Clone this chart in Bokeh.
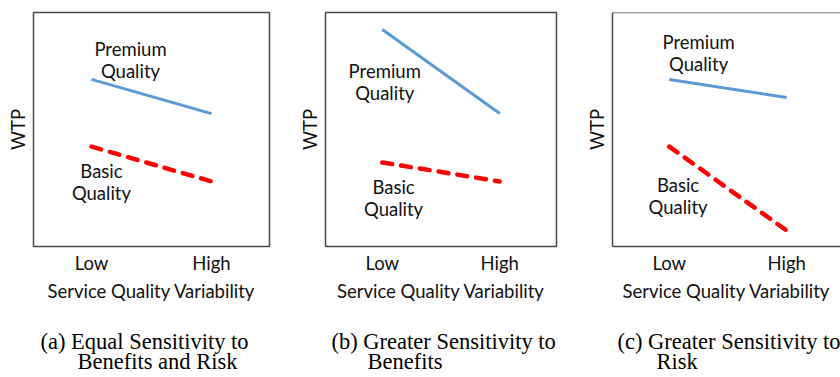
from bokeh.plotting import figure
from bokeh.layouts import row
from bokeh.models import FixedTicker, Title, Span
from bokeh.core.properties import value
from bokeh.embed import file_html
from bokeh.resources import INLINE

# ---- data ----
x_levels = [0, 1]
x_tick_labels = ["Low", "High"]
x_title = "Service Quality Variability"
y_title = "WTP"

premium_a = [7.14, 5.68]
basic_a = [4.27, 2.78]
premium_b = [9.27, 5.68]
basic_b = [3.59, 2.78]
premium_c = [7.14, 6.37]
basic_c = [4.27, 0.68]

premium_label = ["Premium", "Quality"]
basic_label = ["Basic", "Quality"]

captions_a = ["(a) Equal Sensitivity to", "Benefits and Risk"]
captions_b = ["(b) Greater Sensitivity to", "Benefits"]
captions_c = ["(c) Greater Sensitivity to", "Risk"]

# label anchor points (data units): x, y of first line, y of second line
prem_pos_a = (0.325, 8.42, 7.48)
basic_pos_a = (0.083, 3.21, 2.27)
prem_pos_b = (0.021, 7.52, 6.58)
basic_pos_b = (0.096, 2.56, 1.62)
prem_pos_c = (0.25, 8.72, 7.78)
basic_pos_c = (0.075, 2.61, 1.67)

# ---- styles ----
BLUE = "#5B9BD5"
RED = "#FF0000"
FRAME = "#4a4a4a"
TXT = "#111111"
SANS = "Lato"
SERIF = "Liberation Serif"
SANS_SIZE = "18.5px"
SERIF_SIZE = "22.5px"

Y0, Y1 = 0.0, 10.0
X0 = -58 / 120


def make_panel(premium, basic, prem_pos, basic_pos, caps, width, left, frame_w, right_border, cap_offsets):
    x1 = X0 + frame_w / 120
    p = figure(width=width, height=377, x_range=(X0, x1), y_range=(Y0, Y1),
               output_backend="svg", toolbar_location=None,
               min_border_left=left, min_border_right=(width - left - frame_w),
               min_border_top=12, min_border_bottom=131,
               background_fill_color="white", border_fill_color="white")
    p.grid.visible = False
    if right_border:
        p.outline_line_color = FRAME
        p.outline_line_width = 1.5
        line_col = None
    else:
        p.outline_line_color = None
        line_col = FRAME
        p.add_layout(Span(location=Y1, dimension="width", line_color=FRAME, line_width=1.5))

    xa = p.xaxis[0]
    xa.ticker = FixedTicker(ticks=x_levels)
    xa.major_label_overrides = {x_levels[i]: x_tick_labels[i] for i in range(len(x_levels))}
    xa.major_tick_line_color = None
    xa.minor_tick_line_color = None
    xa.major_tick_out = 0
    xa.major_tick_in = 0
    xa.axis_line_color = line_col
    xa.axis_line_width = 1.5
    xa.major_label_standoff = 5
    xa.major_label_text_font = SANS
    xa.major_label_text_font_size = SANS_SIZE
    xa.major_label_text_color = TXT
    xa.axis_label = x_title
    xa.axis_label_standoff = 3
    xa.axis_label_text_font = SANS
    xa.axis_label_text_font_size = SANS_SIZE
    xa.axis_label_text_font_style = "normal"
    xa.axis_label_text_color = TXT

    ya = p.yaxis[0]
    ya.ticker = FixedTicker(ticks=[])
    ya.major_tick_line_color = None
    ya.minor_tick_line_color = None
    ya.major_tick_out = 0
    ya.major_tick_in = 0
    ya.axis_line_color = line_col
    ya.axis_line_width = 1.5
    ya.axis_label = y_title
    ya.axis_label_standoff = 5
    ya.axis_label_text_font = SANS
    ya.axis_label_text_font_size = SANS_SIZE
    ya.axis_label_text_font_style = "normal"
    ya.axis_label_text_color = TXT

    p.line(x_levels, premium, line_color=BLUE, line_width=3)
    p.line(x_levels, basic, line_color=RED, line_width=4.5, line_dash="10 9", line_cap="round")

    p.text(x=[prem_pos[0], prem_pos[0], basic_pos[0], basic_pos[0]],
           y=[prem_pos[1], prem_pos[2], basic_pos[1], basic_pos[2]],
           text=premium_label + basic_label,
           text_align="center", text_baseline="alphabetic",
           text_font=value(SANS), text_font_size=SANS_SIZE, text_color=TXT)

    t1 = Title(text=caps[0], align="left", offset=cap_offsets[0], standoff=44,
               text_font=SERIF, text_font_size=SERIF_SIZE, text_font_style="normal",
               text_color="#000000")
    t2 = Title(text=caps[1], align="left", vertical_align="top", offset=cap_offsets[1], standoff=-54,
               text_font=SERIF, text_font_size=SERIF_SIZE, text_font_style="normal",
               text_color="#000000")
    p.add_layout(t1, "below")
    p.add_layout(t2, "below")
    return p


pa = make_panel(premium_a, basic_a, prem_pos_a, basic_pos_a, captions_a, 295, 33, 236, True, (7, 44))
pb = make_panel(premium_b, basic_b, prem_pos_b, basic_pos_b, captions_b, 287, 25, 236, True, (6, 42))
pc = make_panel(premium_c, basic_c, prem_pos_c, basic_pos_c, captions_c, 258, 25, 233, False, (5, 44))

layout = row(pa, pb, pc)
open("out.html", "w").write(file_html(layout, INLINE))
